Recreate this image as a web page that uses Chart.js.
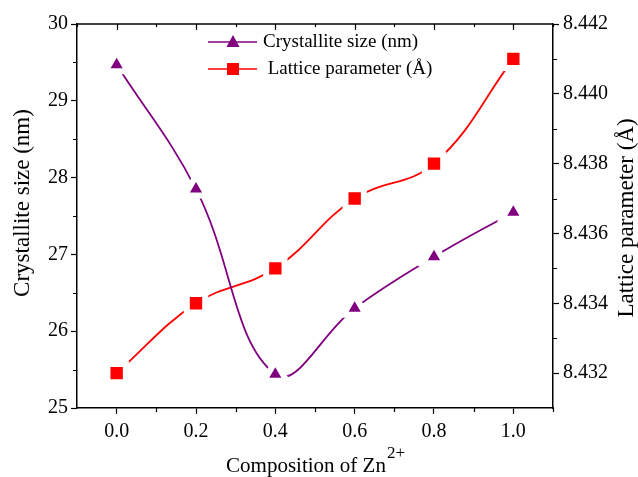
<!DOCTYPE html>
<html>
<head>
<meta charset="utf-8">
<script src="https://cdn.jsdelivr.net/npm/chart.js@4.4.0/dist/chart.umd.min.js"></script>
<style>
  html, body { margin: 0; padding: 0; background: #fff; }
  #wrap { width: 638px; height: 477px; }
</style>
</head>
<body>
<div id="wrap"><canvas id="znChart" width="638" height="477"></canvas></div>
<script>
const composition = [0.0, 0.2, 0.4, 0.6, 0.8, 1.0];
const crystalliteSize = [29.47, 27.85, 25.44, 26.30, 26.97, 27.55];
const latticeParam = [8.432, 8.434, 8.435, 8.437, 8.438, 8.441];
const xTicks = [0.0, 0.2, 0.4, 0.6, 0.8, 1.0];
const yLeftTicks = [25, 26, 27, 28, 29, 30];
const yRightTicks = [8.432, 8.434, 8.436, 8.438, 8.440, 8.442];

const FONT = "'Liberation Serif', 'Times New Roman', serif";
const PURPLE = '#800080';
const RED = '#ff0000';

const ctx = document.getElementById('znChart').getContext('2d');

// frame, minor ticks, legend inside the plot, axis titles (x one has a superscript)
const extrasPlugin = {
  id: 'extras',
  afterDraw(chart) {
    const c = chart.ctx;
    const a = chart.chartArea;
    const sx = chart.scales.x, yl = chart.scales.y, yr = chart.scales.y1;
    c.save();
    c.strokeStyle = '#000';
    c.lineWidth = 1.5;
    // top border
    c.beginPath();
    c.moveTo(a.left, a.top);
    c.lineTo(a.right, a.top);
    c.stroke();
    c.lineWidth = 1.2;
    c.beginPath();
    // top ticks (inward) major + minor
    for (let v = -0.1; v <= 1.1001; v += 0.1) {
      const px = Math.round(sx.getPixelForValue(v)) + 0.5;
      const major = xTicks.some(t => Math.abs(t - v) < 1e-6);
      c.moveTo(px, a.top);
      c.lineTo(px, a.top + (major ? 6 : 3));
    }
    // bottom minor ticks
    for (let v = 0.1; v <= 1.1001; v += 0.2) {
      const px = Math.round(sx.getPixelForValue(v)) + 0.5;
      c.moveTo(px, a.bottom);
      c.lineTo(px, a.bottom + 4);
    }
    // left minor ticks
    for (let v = 25.5; v < 30; v += 1) {
      const py = Math.round(yl.getPixelForValue(v)) + 0.5;
      c.moveTo(a.left, py);
      c.lineTo(a.left - 4, py);
    }
    // right minor ticks
    for (let v = 8.433; v < 8.4425; v += 0.002) {
      const py = Math.round(yr.getPixelForValue(v)) + 0.5;
      c.moveTo(a.right, py);
      c.lineTo(a.right + 4, py);
    }
    c.stroke();

    // legend
    const items = [
      { label: 'Crystallite size (nm)', color: PURPLE, shape: 'tri', y: 42, tx: 263 },
      { label: ' Lattice parameter (Å)', color: RED, shape: 'rect', y: 69, tx: 263 }
    ];
    items.forEach(it => {
      c.strokeStyle = it.color;
      c.lineWidth = 1.5;
      c.beginPath();
      c.moveTo(208, it.y);
      c.lineTo(257, it.y);
      c.stroke();
      c.fillStyle = it.color;
      c.beginPath();
      if (it.shape === 'tri') {
        c.moveTo(233, it.y - 7);
        c.lineTo(239.5, it.y + 5);
        c.lineTo(226.5, it.y + 5);
        c.closePath();
      } else {
        c.rect(227, it.y - 6, 12, 12);
      }
      c.fill();
      c.fillStyle = '#000';
      c.font = '19px ' + FONT;
      c.textBaseline = 'middle';
      c.textAlign = 'left';
      c.fillText(it.label, it.tx, it.y);
    });

    // y axis titles, both read bottom-to-top
    c.fillStyle = '#000';
    c.font = '23px ' + FONT;
    c.textAlign = 'center';
    c.textBaseline = 'middle';
    c.save();
    c.translate(23, 203);
    c.rotate(-Math.PI / 2);
    c.fillText('Crystallite size (nm)', 0, 0);
    c.restore();
    c.save();
    c.translate(627, 218);
    c.rotate(-Math.PI / 2);
    c.fillText('Lattice parameter (Å)', 0, 0);
    c.restore();

    // x axis title with superscript
    c.textBaseline = 'alphabetic';
    c.textAlign = 'left';
    c.font = '21px ' + FONT;
    const main = 'Composition of Zn';
    const w = c.measureText(main).width;
    c.font = '17px ' + FONT;
    const w2 = c.measureText('2+').width;
    const x0 = (a.left + a.right) / 2 - (w + w2) / 2;
    c.font = '21px ' + FONT;
    c.fillText(main, x0, 472);
    c.font = '17px ' + FONT;
    c.fillText('2+', x0 + w + 1, 458);
    c.restore();
  }
};

const config = {
  type: 'line',
  data: {
    datasets: [
      {
        label: 'Crystallite size (nm)',
        data: composition.map((x, i) => ({ x: x, y: crystalliteSize[i] })),
        borderColor: PURPLE,
        backgroundColor: PURPLE,
        borderWidth: 1.8,
        tension: 0.4,
        pointStyle: 'triangle',
        pointRadius: 13,
        pointBorderColor: '#fff',
        pointBorderWidth: 6,
        pointBackgroundColor: PURPLE,
        yAxisID: 'y'
      },
      {
        label: 'Lattice parameter (Å)',
        data: composition.map((x, i) => ({ x: x, y: latticeParam[i] })),
        borderColor: RED,
        backgroundColor: RED,
        borderWidth: 1.8,
        tension: 0.4,
        pointStyle: 'rect',
        pointRadius: 13,
        pointBorderColor: '#fff',
        pointBorderWidth: 6,
        pointBackgroundColor: RED,
        yAxisID: 'y1'
      }
    ]
  },
  options: {
    responsive: false,
    animation: false,
    events: [],
    layout: { padding: { top: 24, left: 0, right: 0, bottom: 0 } },
    plugins: {
      legend: { display: false },
      tooltip: { enabled: false }
    },
    scales: {
      x: {
        type: 'linear',
        min: -0.1,
        max: 1.1,
        afterBuildTicks: s => { s.ticks = xTicks.map(v => ({ value: v })); },
        afterFit: s => { s.height = 69; },
        ticks: {
          color: '#000',
          font: { family: FONT, size: 20 },
          padding: 6,
          maxRotation: 0,
          callback: v => Number(v).toFixed(1)
        },
        grid: { drawOnChartArea: false, drawTicks: true, tickLength: 6, color: '#000', tickWidth: 1.2 },
        border: { display: true, color: '#000', width: 1.5 }
      },
      y: {
        type: 'linear',
        position: 'left',
        min: 25,
        max: 30,
        afterBuildTicks: s => { s.ticks = yLeftTicks.map(v => ({ value: v })); },
        afterFit: s => { s.width = 77; },
        ticks: {
          color: '#000',
          font: { family: FONT, size: 20 },
          padding: 3,
          callback: v => String(v)
        },
        grid: { drawOnChartArea: false, drawTicks: true, tickLength: 6, color: '#000', tickWidth: 1.2 },
        border: { display: true, color: '#000', width: 1.5 }
      },
      y1: {
        type: 'linear',
        position: 'right',
        min: 8.431,
        max: 8.442,
        afterBuildTicks: s => { s.ticks = yRightTicks.map(v => ({ value: v })); },
        afterFit: s => { s.width = 85; },
        ticks: {
          color: '#000',
          font: { family: FONT, size: 20 },
          padding: 4,
          callback: v => Number(v).toFixed(3)
        },
        grid: { drawOnChartArea: false, drawTicks: true, tickLength: 6, color: '#000', tickWidth: 1.2 },
        border: { display: true, color: '#000', width: 1.5 }
      }
    }
  },
  plugins: [extrasPlugin]
};

new Chart(ctx, config);
</script>
</body>
</html>
